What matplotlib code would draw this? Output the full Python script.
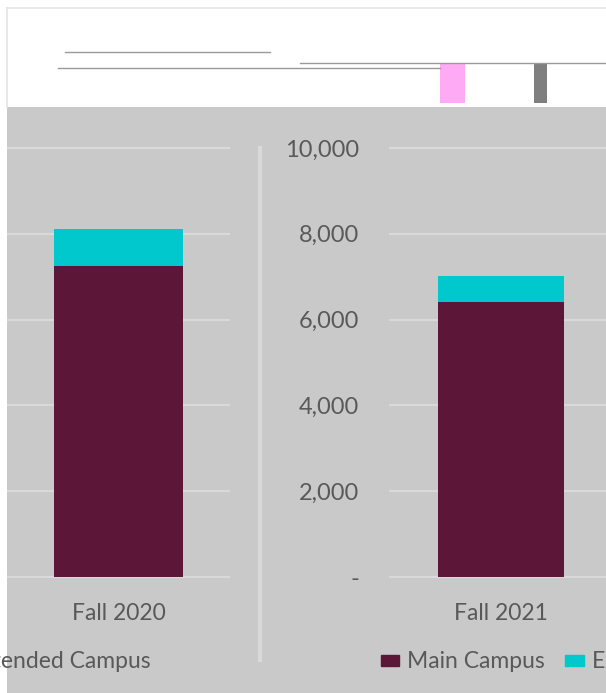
import matplotlib.pyplot as plt
from matplotlib.patches import Rectangle
from matplotlib.ticker import FuncFormatter

# Enrollment by campus, fall terms
terms = ["Fall 2020", "Fall 2021"]
main_campus = [7250, 6410]
extended_campus = [860, 610]

MAIN = "#5c1637"
EXT = "#00c8cc"
BG = "#c9c9c9"
GRID = "#d9d9d9"
TXT = "#595959"
W, H = 606, 693

plt.rcParams["font.family"] = ["Lato", "DejaVu Sans"]

fig = plt.figure(figsize=(W / 100, H / 100), dpi=100, facecolor="white")


def fx(px):
    return px / W


def fy(py):
    return 1 - py / H


# grey plot area under a white header band
fig.patches.append(Rectangle((fx(7), 0), 1, fy(107), transform=fig.transFigure,
                             facecolor=BG, edgecolor="none", zorder=-5))
fig.add_artist(plt.Line2D([fx(7), 1], [fy(8), fy(8)], color="#e4e4e4", lw=1.2))
fig.add_artist(plt.Line2D([fx(7), fx(7)], [fy(8), fy(107)], color="#e4e4e4", lw=1.2))
fig.add_artist(plt.Line2D([fx(65), fx(270)], [fy(52), fy(52)], color="#9a9a9a", lw=1))
fig.add_artist(plt.Line2D([fx(58), fx(440)], [fy(68), fy(68)], color="#9a9a9a", lw=1))
fig.add_artist(plt.Line2D([fx(300), fx(606)], [fy(63), fy(63)], color="#9a9a9a", lw=1))
fig.patches.append(Rectangle((fx(440), fy(103)), fx(25), 40 / H, transform=fig.transFigure,
                             facecolor="#ffaaf5", edgecolor="none"))
fig.patches.append(Rectangle((fx(534), fy(103)), fx(13), 40 / H, transform=fig.transFigure,
                             facecolor="#7f7f7f", edgecolor="none"))

# divider between the two panels
fig.add_artist(plt.Line2D([fx(260), fx(260)], [fy(148), fy(660)], color=GRID, lw=3, zorder=-1))


def fmt(v, _):
    return "-" if v == 0 else f"{int(v):,}"


def panel(left, right, xlim, i, show_y):
    ax = fig.add_axes([fx(left), fy(577), fx(right - left), (577 - 148) / H])
    ax.set_facecolor("none")
    ax.bar(0, main_campus[i], width=0.5, color=MAIN, zorder=3)
    ax.bar(0, extended_campus[i], width=0.5, bottom=main_campus[i], color=EXT, zorder=3)
    ax.set_ylim(0, 10000)
    ax.set_xlim(*xlim)
    ax.set_yticks(range(0, 10001, 2000))
    ax.yaxis.set_major_formatter(FuncFormatter(fmt))
    ax.grid(axis="y", color=GRID, lw=1.6, zorder=0)
    for gl in ax.get_ygridlines():
        gl.set_clip_on(False)
    ax.set_xticks([0])
    ax.set_xticklabels([terms[i]])
    ax.tick_params(axis="x", length=0, pad=19, labelsize=16.5, labelcolor=TXT)
    ax.tick_params(axis="y", length=0, pad=22, labelsize=17, labelcolor=TXT,
                   labelleft=show_y)
    for s in ax.spines.values():
        s.set_visible(False)
    return ax


panel(8, 229, (-0.43, 0.43), 0, False)
panel(390, 606, (-0.44, 0.417), 1, True)

# legend along the bottom
handles = [Rectangle((0, 0), 1, 1, color=MAIN), Rectangle((0, 0), 1, 1, color=EXT)]
fig.legend(handles, ["Main Campus", "Extended Campus"], ncol=2, frameon=False,
           loc="center left", bbox_to_anchor=(fx(360), fy(662)), fontsize=16.5,
           labelcolor=TXT, handlelength=0.8, handleheight=0.4, handletextpad=0.35,
           columnspacing=0.9)
fig.text(fx(151), fy(662), "Extended Campus", ha="right", va="center",
         fontsize=16.5, color=TXT)

fig.savefig("out.png", dpi=100, facecolor="white")
